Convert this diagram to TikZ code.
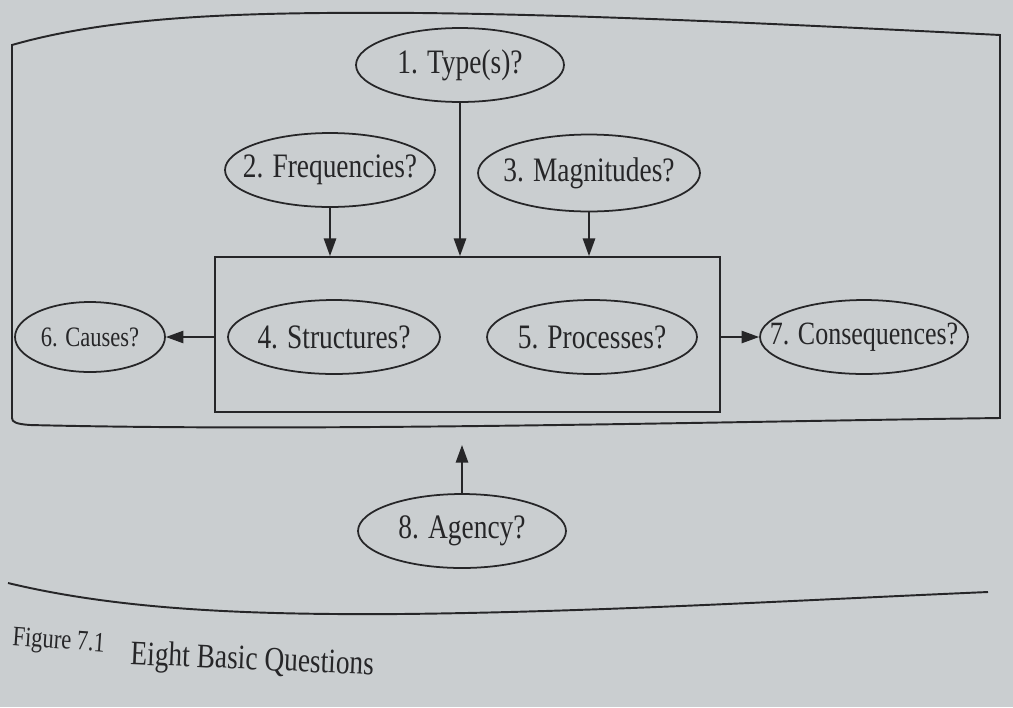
\documentclass[tikz,border=0pt]{standalone}
\usepackage{fontspec}
\setmainfont{Liberation Serif}[FakeStretch=0.8]
\usetikzlibrary{shapes.geometric,arrows.meta}
\tikzset{>={Triangle[length=10pt,width=7pt]}}
\definecolor{pagegray}{RGB}{202,206,208}
\definecolor{inkgray}{RGB}{38,38,40}
\newcommand{\qlabel}[1]{\makebox[0pt]{#1}}

\begin{document}
\begin{tikzpicture}[x=0.02cm,y=-0.02cm,
    question/.style={ellipse, draw=inkgray, line width=1pt, inner sep=0pt,
        minimum width=4.16cm, minimum height=1.48cm, text=inkgray,
        font=\fontsize{19.5}{21}\selectfont},
    link/.style={->, draw=inkgray, line width=1pt},
    frame/.style={draw=inkgray, line width=1.1pt}]

        % page
        \fill[pagegray] (0,0) rectangle (1013,707);

        % outer frame
        \draw[frame] (12,418) -- (12,45) .. controls (120,14) and (260,12) .. (420,13)
            .. controls (600,15) and (800,25) .. (1000,35) -- (1000,418)
            .. controls (700,422) and (320,432) .. (30,425)
            .. controls (16,424) and (12,422) .. (12,418);

        % box round 4 and 5
        \node[frame, minimum width=10.1cm, minimum height=3.1cm] (core) at (467.5,334.5) {};

        % questions
        \node[question] (type) at (460,65) {\qlabel{1. Type(s)?}};
        \node[question, minimum width=4.2cm] (freq) at (330,170) {\qlabel{2. Frequencies?}};
        \node[question, minimum width=4.44cm, minimum height=1.54cm] (magn) at (589,173) {\qlabel{3. Magnitudes?}};
        \node[question, minimum width=4.24cm] (struct) at (334,337) {\qlabel{4. Structures?}};
        \node[question, minimum width=4.2cm] (proc) at (592,337) {\qlabel{5. Processes?}};
        \node[question, minimum width=3cm, minimum height=1.4cm,
              font=\fontsize{16}{18}\selectfont] (causes) at (90,337) {\qlabel{6. Causes?}};
        \node[question, font=\fontsize{18.5}{20}\selectfont] (conseq) at (864,337) {\qlabel{7. Consequences?}};
        \node[question] (agency) at (462,531) {\qlabel{8. Agency?}};

        % links
        \draw[link] (freq.south) -- (freq.south |- core.north);
        \draw[link] (type.south) -- (type.south |- core.north);
        \draw[link] (magn.south) -- (magn.south |- core.north);
        \draw[link] (core.west |- causes) -- (causes.east);
        \draw[link] (core.east |- conseq) -- (conseq.west);
        \coordinate (agencytip) at (462,445);
        \draw[link] (agency.north) -- (agencytip);

        % rule under the figure
        \draw[frame] (8,583) .. controls (120,610) and (250,615) .. (400,614)
            .. controls (600,612) and (800,600) .. (988,592);

        % caption
        \node[anchor=base west, rotate=-4, text=inkgray, font=\fontsize{16}{18}\selectfont]
            (capnum) at (6,645) {Figure 7.1};
        \node[anchor=base west, rotate=-2.5, text=inkgray, font=\fontsize{19.5}{21}\selectfont]
            (captext) at (124,664) {Eight Basic Questions};

\end{tikzpicture}
\end{document}
